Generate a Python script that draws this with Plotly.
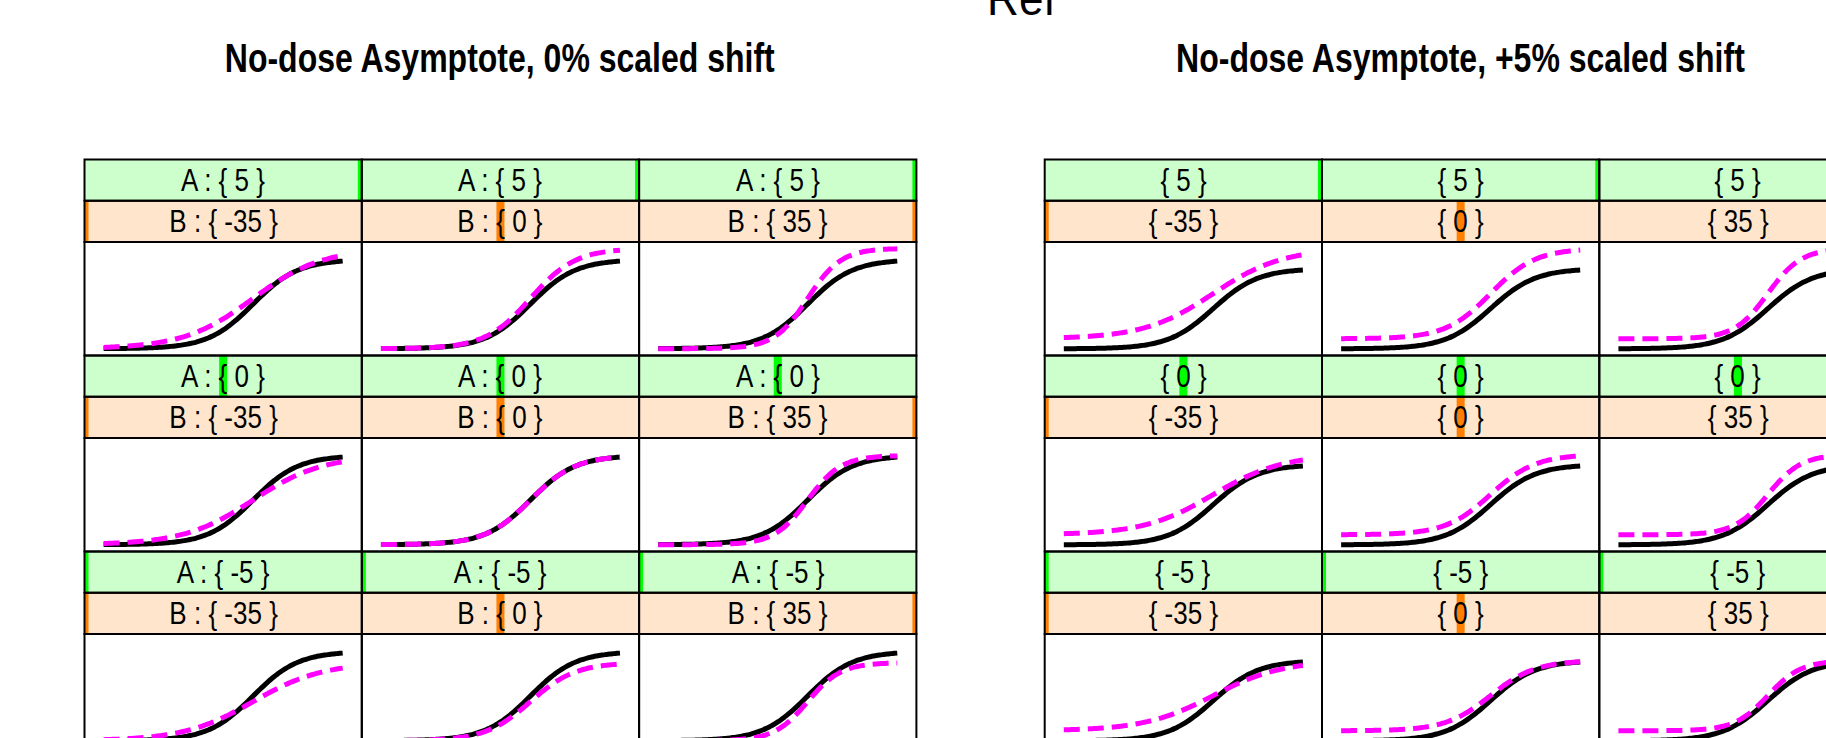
import plotly.graph_objects as go

# ---- design values -------------------------------------------------------
A_LEVELS = [5, 0, -5]            # upper-asymptote shift (%), rows top -> bottom
B_LEVELS = [-35, 0, 35]          # Hill-slope change (%), columns left -> right
NO_DOSE_SHIFTS = [0, 5]          # no-dose asymptote shift (%), one lattice each
PLOT_TITLES = ["No-dose Asymptote, 0% scaled shift",
               "No-dose Asymptote, +5% scaled shift"]
SHOW_VAR_NAMES = [True, False]
MAIN_TITLE = "Ref"

# reference four-parameter logistic curve
REF_LOWER = 60.0
REF_UPPER = 100.0
REF_LOG_EC50 = 0.5
REF_HILL = 1.15

# log10 dose grid the curves are evaluated on
LOG_DOSE = [-2.0 + 0.05 * i for i in range(81)]

# ---- page geometry (pixels) ----------------------------------------------
W, H = 1826, 738
GRID_X0 = [84.5, 1044.7]
COL_W = 277.3
TOP = 159.5
ROW_PITCH = 196.0
STRIP_H = 41.25
X_PAD = 0.08
Y_PAD = 0.068

FONT = "Liberation Sans, Arial, Helvetica, sans-serif"
STRIP_SIZE, TITLE_SIZE, MAIN_SIZE = 31, 40, 48
# horizontal condensing applied to labels, keyed by font size
SQUEEZE = {STRIP_SIZE: 0.84, TITLE_SIZE: 0.80, MAIN_SIZE: 0.92}

STRIP_BG = {"A": "#CCFFCC", "B": "#FFE5CC"}
STRIP_BAR = {"A": "#00FF00", "B": "#FF7F00"}
REF_COLOR = "black"
TEST_COLOR = "#FF00FF"
LINE_W = 5


def four_pl(x, lower, upper, log_ec50, hill):
    return [lower + (upper - lower) / (1.0 + 10 ** (hill * (log_ec50 - v))) for v in x]


def test_params(a, b, s):
    return (REF_LOWER + s, REF_UPPER + a + s, REF_LOG_EC50, REF_HILL * (1 + b / 100.0))


fig = go.Figure()
layout = {}
shapes = []
annotations = []
counter = [0]


def new_axes(x0, x1, y0, y1, xr, yr):
    """Create an axis pair occupying pixel box (x0..x1, y0..y1), cropped to the page."""
    counter[0] += 1
    n = counter[0]
    xv0, xv1 = max(x0, 0), min(x1, W)
    yv0, yv1 = max(y0, 0), min(y1, H)
    fx = (xr[1] - xr[0]) / (x1 - x0)
    fy = (yr[1] - yr[0]) / (y1 - y0)
    xrange = [xr[0] + fx * (xv0 - x0), xr[0] + fx * (xv1 - x0)]
    yrange = [yr[0] + fy * (y1 - yv1), yr[0] + fy * (y1 - yv0)]
    sfx = "" if n == 1 else str(n)
    layout["xaxis" + sfx] = dict(domain=[xv0 / W, xv1 / W], range=xrange, visible=False,
                                 anchor="y" + sfx, fixedrange=True)
    layout["yaxis" + sfx] = dict(domain=[1 - yv1 / H, 1 - yv0 / H], range=yrange, visible=False,
                                 anchor="x" + sfx, fixedrange=True)
    return "x" + sfx, "y" + sfx


def border(x0, x1, y0, y1):
    shapes.append(dict(type="rect", xref="paper", yref="paper",
                       x0=x0 / W, x1=x1 / W, y0=1 - y1 / H, y1=1 - y0 / H,
                       line=dict(color="black", width=2), fillcolor="rgba(0,0,0,0)",
                       layer="above"))


def strip(key, levels, level, label, x0, x1, y0, y1):
    xa, ya = new_axes(x0, x1, y0, y1, [min(levels), max(levels)], [0, 1])
    shapes.append(dict(type="rect", xref=xa + " domain", yref=ya + " domain",
                       x0=0, x1=1, y0=0, y1=1, fillcolor=STRIP_BG[key],
                       line=dict(width=0), layer="below"))
    fig.add_trace(go.Scatter(x=[level, level], y=[0, 1], mode="lines",
                             line=dict(color=STRIP_BAR[key], width=8),
                             xaxis=xa, yaxis=ya, hoverinfo="skip", showlegend=False))
    annotations.append(dict(text=label, xref="paper", yref="paper",
                            x=(x0 + x1) / 2 / W, y=1 - (y0 + y1) / 2 / H,
                            xanchor="center", yanchor="middle", showarrow=False,
                            font=dict(family=FONT, size=STRIP_SIZE, color="black")))
    border(x0, x1, y0, y1)


x_span = LOG_DOSE[-1] - LOG_DOSE[0]
X_RANGE = [LOG_DOSE[0] - X_PAD * x_span, LOG_DOSE[-1] + X_PAD * x_span]
ref_curve = four_pl(LOG_DOSE, REF_LOWER, REF_UPPER, REF_LOG_EC50, REF_HILL)

for g, shift in enumerate(NO_DOSE_SHIFTS):
    curves = {}
    for a in A_LEVELS:
        for b in B_LEVELS:
            curves[(a, b)] = four_pl(LOG_DOSE, *test_params(a, b, shift))
    all_y = ref_curve + [v for c in curves.values() for v in c]
    lo, hi = min(all_y), max(all_y)
    y_range = [lo - Y_PAD * (hi - lo), hi + Y_PAD * (hi - lo)]

    gx0 = GRID_X0[g]
    annotations.append(dict(text="<b>" + PLOT_TITLES[g] + "</b>", xref="paper", yref="paper",
                            x=(gx0 + 1.5 * COL_W) / W, y=1 - 58 / H,
                            xanchor="center", yanchor="middle", showarrow=False,
                            font=dict(family=FONT, size=TITLE_SIZE, color="black")))

    for i, a in enumerate(A_LEVELS):
        rt = TOP + i * ROW_PITCH
        for j, b in enumerate(B_LEVELS):
            x0 = gx0 + j * COL_W
            x1 = x0 + COL_W
            a_lab = ("A : " if SHOW_VAR_NAMES[g] else "") + "{ %d }" % a
            b_lab = ("B : " if SHOW_VAR_NAMES[g] else "") + "{ %d }" % b
            strip("A", A_LEVELS, a, a_lab, x0, x1, rt, rt + STRIP_H)
            strip("B", B_LEVELS, b, b_lab, x0, x1, rt + STRIP_H, rt + 2 * STRIP_H)

            py0, py1 = rt + 2 * STRIP_H, rt + ROW_PITCH
            xa, ya = new_axes(x0, x1, py0, py1, X_RANGE, y_range)
            fig.add_trace(go.Scatter(x=LOG_DOSE, y=ref_curve, mode="lines",
                                     line=dict(color=REF_COLOR, width=LINE_W, shape="spline"),
                                     xaxis=xa, yaxis=ya, hoverinfo="skip", showlegend=False))
            fig.add_trace(go.Scatter(x=LOG_DOSE, y=curves[(a, b)], mode="lines",
                                     line=dict(color=TEST_COLOR, width=LINE_W, shape="spline",
                                               dash="16px,8px"),
                                     xaxis=xa, yaxis=ya, hoverinfo="skip", showlegend=False))
            border(x0, x1, py0, py1)

annotations.append(dict(text=MAIN_TITLE, xref="paper", yref="paper",
                        x=1022 / W, y=1 - 27 / H, xanchor="center", yanchor="bottom",
                        showarrow=False, font=dict(family=FONT, size=MAIN_SIZE, color="black")))

fig.update_layout(width=W, height=H, autosize=False,
                  margin=dict(l=0, r=0, t=0, b=0, pad=0),
                  paper_bgcolor="white", plot_bgcolor="white",
                  shapes=shapes, annotations=annotations, **layout)

# condense each label horizontally about its own centre
squeeze_js = """
var gd = document.getElementById('{plot_id}');
var factors = %s;
gd.querySelectorAll('text.annotation-text').forEach(function (t) {
  var size = Math.round(parseFloat(t.style.fontSize));
  var k = factors[size] || 1;
  var w = document.createElementNS('http://www.w3.org/2000/svg', 'g');
  t.parentNode.insertBefore(w, t);
  w.appendChild(t);
  var bb = w.getBBox();
  var cx = bb.x + bb.width / 2;
  w.setAttribute('transform', 'translate(' + cx + ',0) scale(' + k + ',1) translate(' + (-cx) + ',0)');
});
""" % ("{" + ", ".join('"%d": %s' % (s, f) for s, f in SQUEEZE.items()) + "}")

fig.write_html("out.html", config={"displayModeBar": False}, post_script=squeeze_js)
